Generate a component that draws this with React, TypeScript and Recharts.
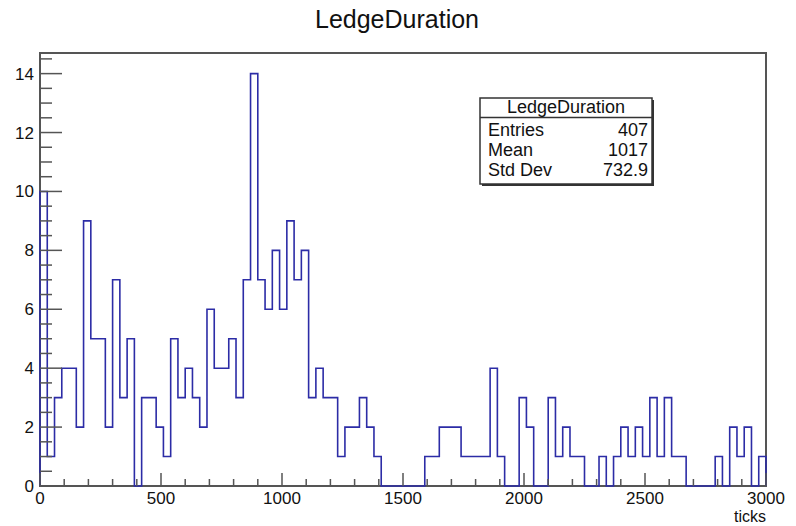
import React from "react";
import { ComposedChart, Line, XAxis, YAxis, ReferenceArea } from "recharts";

// counts per 30-tick bin, 0 .. 3000
const binWidth = 30;
const binCounts = [
  10, 1, 3, 4, 4, 2, 9, 5, 5, 2,
  7, 3, 5, 0, 3, 3, 2, 1, 5, 3,
  4, 3, 2, 6, 4, 4, 5, 3, 7, 14,
  7, 6, 8, 6, 9, 7, 8, 3, 4, 3,
  3, 1, 2, 2, 3, 2, 1, 0, 0, 0,
  0, 0, 0, 1, 1, 2, 2, 2, 1, 1,
  1, 1, 4, 1, 0, 0, 3, 2, 0, 0,
  3, 1, 2, 1, 1, 0, 0, 1, 0, 1,
  2, 1, 2, 1, 3, 1, 3, 1, 1, 0,
  0, 0, 0, 1, 0, 2, 1, 2, 0, 1,
];

const xMax = 3000;
const yMax = 14.7;
const xMinorStep = 100;
const xMajorStep = 500;
const yMinorStep = 0.5;
const yMajorStep = 2;

const xTicks = Array.from({ length: xMax / xMinorStep + 1 }, (_, i) => i * xMinorStep);
const yTicks = Array.from({ length: 30 }, (_, i) => i * yMinorStep);

const histTitle = "LedgeDuration";
const xTitle = "ticks";
const statsRows: [string, string][] = [
  ["Entries", "407"],
  ["Mean", "1017"],
  ["Std Dev", "732.9"],
];

// step outline: rise at 0, one point per bin edge, drop at xMax
const histPoints = [
  { x: 0, y: 0 },
  ...binCounts.map((c, i) => ({ x: i * binWidth, y: c })),
  { x: xMax, y: binCounts[binCounts.length - 1] },
  { x: xMax, y: 0 },
];

const FONT = "'Liberation Sans', Arial, Helvetica, sans-serif";
const AXIS = "#555";
const TEXT = "#111";
const HIST = "#2c2ca6";

function XTick(props: any) {
  const { x, y, payload } = props;
  const v = payload.value as number;
  const major = v % xMajorStep === 0;
  return (
    <g>
      <line x1={x} y1={y} x2={x} y2={y - (major ? 13 : 7)} stroke={AXIS} strokeWidth={1.5} />
      {major && (
        <text x={x} y={y + 18} textAnchor="middle" fontFamily={FONT} fontSize={17} fill={TEXT}>
          {v}
        </text>
      )}
    </g>
  );
}

function YTick(props: any) {
  const { x, y, payload } = props;
  const v = payload.value as number;
  const major = v % yMajorStep === 0;
  return (
    <g>
      <line x1={x} y1={y} x2={x + (major ? 22 : 12)} y2={y} stroke={AXIS} strokeWidth={1.5} />
      {major && (
        <text x={x - 6} y={y + 6} textAnchor="end" fontFamily={FONT} fontSize={17} fill={TEXT}>
          {v}
        </text>
      )}
    </g>
  );
}

function StatsBox() {
  const left = 480;
  const top = 98;
  const w = 172;
  const h = 86;
  return (
    <g fontFamily={FONT} fill={TEXT}>
      <rect x={left + 2} y={top + 2} width={w} height={h} fill="#333" />
      <rect x={left} y={top} width={w} height={h} fill="#fff" stroke="#333" strokeWidth={1.5} />
      <line x1={left} y1={top + 19.5} x2={left + w} y2={top + 19.5} stroke="#333" strokeWidth={1.5} />
      <text x={left + w / 2} y={top + 15} textAnchor="middle" fontSize={18}>
        {histTitle}
      </text>
      {statsRows.map(([name, val], i) => (
        <g key={name}>
          <text x={left + 8} y={top + 38 + i * 20} fontSize={18}>
            {name}
          </text>
          <text x={left + w - 4} y={top + 38 + i * 20} textAnchor="end" fontSize={18}>
            {val}
          </text>
        </g>
      ))}
    </g>
  );
}

export default function App() {
  return (
    <div style={{ position: "absolute", left: 0, top: 0, width: 796, height: 526, background: "#fff" }}>
      <ComposedChart
        width={796}
        height={526}
        data={histPoints}
        margin={{ top: 53, right: 30, bottom: 0, left: 0 }}
      >
        <XAxis
          type="number"
          dataKey="x"
          domain={[0, xMax]}
          ticks={xTicks}
          interval={0}
          height={40}
          tickSize={0}
          tickMargin={0}
          tickLine={false}
          axisLine={false}
          tick={(p: any) => <XTick {...p} />}
        />
        <YAxis
          type="number"
          domain={[0, yMax]}
          ticks={yTicks}
          interval={0}
          width={40}
          tickSize={0}
          tickMargin={0}
          tickLine={false}
          axisLine={false}
          tick={(p: any) => <YTick {...p} />}
        />
        <Line
          type="stepAfter"
          dataKey="y"
          stroke={HIST}
          strokeWidth={1.6}
          dot={false}
          activeDot={false}
          isAnimationActive={false}
        />
        <ReferenceArea
          x1={0}
          x2={xMax}
          y1={0}
          y2={yMax}
          fill="none"
          stroke={AXIS}
          strokeWidth={2}
          ifOverflow="visible"
        />
      </ComposedChart>
      <svg
        width={796}
        height={526}
        style={{ position: "absolute", left: 0, top: 0, pointerEvents: "none" }}
      >
        <text x={397} y={28} textAnchor="middle" fontFamily={FONT} fontSize={25} fill={TEXT}>
          {histTitle}
        </text>
        <text x={766} y={522} textAnchor="end" fontFamily={FONT} fontSize={16} fill={TEXT}>
          {xTitle}
        </text>
        <StatsBox />
      </svg>
    </div>
  );
}
